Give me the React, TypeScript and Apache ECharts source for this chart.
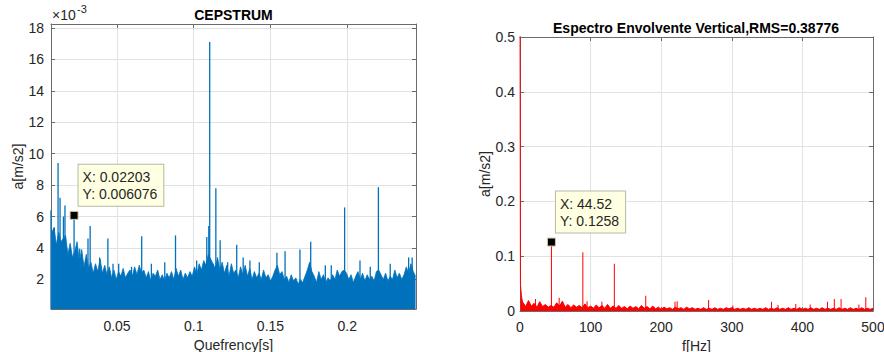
import React, { useEffect, useRef } from "react";
import * as echarts from "echarts";

// ---------- CEPSTRUM (values in units of 1e-3 m/s2) ----------
const cepNoiseStart = 0.0075;
const cepNoiseStep = 0.0015;
const cepNoise = [
  5.0, 5.3, 4.2, 5.0, 4.4, 4.6, 4.8, 3.6, 4.3, 3.4,
  3.8, 4.4, 3.1, 3.9, 2.8, 3.6, 2.7, 3.1, 2.4, 3.0,
  2.5, 3.3, 2.4, 2.9, 2.3, 2.8, 2.1, 2.6, 2.0, 2.5,
  2.2, 2.7, 2.1, 2.4, 2.6, 2.2, 2.8, 2.3, 2.9, 2.4,
  2.6, 2.1, 2.5, 1.9, 2.4, 2.2, 2.6, 2.0, 2.3, 1.9,
  2.4, 2.1, 2.5, 2.0, 2.7, 2.2, 2.6, 2.0, 2.4, 2.1,
  2.5, 2.2, 2.8, 2.3, 3.0, 2.6, 3.2, 2.9, 3.6, 3.3,
  3.0, 2.7, 3.4, 2.6, 3.1, 2.4, 2.9, 2.2, 3.0, 2.4,
  2.6, 2.1, 2.8, 2.3, 2.9, 2.2, 2.7, 2.0, 2.5, 2.1,
  2.4, 2.0, 2.6, 2.1, 2.3, 1.9, 2.2, 2.6, 2.9, 2.3,
  2.5, 2.0, 2.2, 1.8, 2.3, 1.9, 2.1, 1.7, 2.0, 1.8,
  2.2, 2.6, 3.1, 2.5, 2.2, 1.8, 2.5, 2.0, 2.3, 1.8,
  2.1, 1.9, 2.3, 2.0, 2.6, 2.2, 2.5, 2.6, 2.4, 2.0,
  2.3, 1.8, 2.2, 2.5, 2.0, 2.4, 1.9, 2.3, 2.0, 2.2,
  1.9, 2.5, 2.6, 2.3, 2.0, 2.4, 1.9, 2.2, 2.0, 2.6,
  2.1, 2.4, 2.0, 2.3, 2.8, 2.4, 3.0, 2.5, 2.2,
];
const cepPeaks: [number, number][] = [
  [0.0070, 6.4], [0.0091, 5.3], [0.0116, 9.4], [0.0129, 7.2], [0.0151, 6.0],
  [0.0161, 6.7], [0.02203, 6.076], [0.0257, 3.95], [0.0311, 4.6], [0.0325, 5.4],
  [0.0387, 3.4], [0.04406, 4.6], [0.0474, 3.0], [0.0511, 3.0], [0.0595, 2.8],
  [0.06609, 4.75], [0.0724, 3.0], [0.0811, 3.1], [0.08812, 4.8], [0.1019, 3.2],
  [0.1085, 4.7], [0.1098, 5.4], [0.1104, 17.1], [0.1127, 3.0], [0.1144, 7.8],
  [0.1172, 4.5], [0.1221, 3.1], [0.1280, 4.2], [0.1322, 3.4], [0.1366, 3.2],
  [0.1427, 3.1], [0.1542, 3.7], [0.1595, 3.8], [0.1692, 3.9], [0.1762, 4.4],
  [0.1857, 2.9], [0.1896, 2.9], [0.1983, 6.58], [0.2083, 3.2], [0.2150, 2.8],
  [0.2203, 7.87], [0.2280, 3.0], [0.2400, 3.4], [0.2423, 3.4],
];
const cepXTicks = [0.05, 0.1, 0.15, 0.2];
const cepYTicks = [2, 4, 6, 8, 10, 12, 14, 16, 18];
const cepTip = [0.02203, 0.006076];

// ---------- Envelope spectrum (m/s2) ----------
const envLowFreq: [number, number][] = [
  [0, 0.62], [0.6, 0.048], [1.2, 0.04], [2, 0.028], [3, 0.02],
];
const envNoiseStart = 4;
const envNoiseStep = 4;
const envNoise = [
  0.016, 0.008, 0.019, 0.009, 0.014, 0.007, 0.017, 0.008, 0.012, 0.007,
  0.010, 0.007, 0.015, 0.009, 0.018, 0.007, 0.012, 0.006, 0.011, 0.007,
  0.010, 0.006, 0.013, 0.006, 0.009, 0.005, 0.011, 0.006, 0.010, 0.005,
  0.012, 0.005, 0.009, 0.005, 0.010, 0.005, 0.008, 0.004, 0.009, 0.005,
  0.008, 0.004, 0.010, 0.005, 0.008, 0.004, 0.009, 0.004, 0.007, 0.003,
  0.007, 0.004, 0.006, 0.003, 0.007, 0.004, 0.006, 0.003, 0.007, 0.004,
  0.006, 0.003, 0.005, 0.003, 0.006, 0.003, 0.005, 0.003, 0.006, 0.003,
  0.005, 0.003, 0.006, 0.004, 0.006, 0.003, 0.005, 0.003, 0.005, 0.003,
  0.006, 0.003, 0.005, 0.003, 0.005, 0.003, 0.006, 0.003, 0.005, 0.003,
  0.006, 0.003, 0.005, 0.003, 0.006, 0.003, 0.005, 0.003, 0.006, 0.003,
  0.005, 0.003, 0.006, 0.003, 0.005, 0.003, 0.006, 0.003, 0.005, 0.003,
  0.005, 0.003, 0.006, 0.003, 0.005, 0.003, 0.006, 0.003, 0.005, 0.003,
  0.006, 0.003, 0.005, 0.003, 0.005,
];
const envPeaks: [number, number][] = [
  [22, 0.022], [44.52, 0.1258], [55.5, 0.024], [89.0, 0.107], [95, 0.018],
  [116, 0.017], [133.6, 0.086], [178.1, 0.028], [219.5, 0.017], [222.6, 0.018],
  [267.1, 0.020], [301.5, 0.010], [356.2, 0.017], [365.5, 0.011], [390.6, 0.013],
  [411, 0.012], [435.5, 0.017], [445.2, 0.022], [454.8, 0.022], [480, 0.012],
  [489.8, 0.025],
];
const envTip = [44.52, 0.1258];

const FONT = '"Liberation Sans", Arial, Helvetica, sans-serif';
const TXT = "#262626";
const BOX = "#6b6b6b";
const GRIDC = "#e2e2e2";
const BLUE = "#0072BD";
const RED = "#FF0000";

export default function App() {
  const ref = useRef<HTMLDivElement>(null);

  useEffect(() => {
    if (!ref.current) return;
    const chart = echarts.init(ref.current, null, { renderer: "svg" });

    const cepData = cepNoise.map((v, i) => [cepNoiseStart + i * cepNoiseStep, v]);
    const envData = envLowFreq.concat(
      envNoise.map((v, i) => [envNoiseStart + i * envNoiseStep, v] as [number, number])
    );

    const labelStyle = { color: TXT, fontSize: 14, fontFamily: FONT };
    const nameStyle = { color: TXT, fontSize: 14, fontFamily: FONT };
    const lineBox = { show: true, onZero: false, lineStyle: { color: BOX, width: 1 } };

    const tipLabel = (text: string) => ({
      show: true,
      position: [9, -46],
      formatter: () => text,
      backgroundColor: "#FFFFE1",
      borderColor: "#b8b8a4",
      borderWidth: 1,
      padding: [4, 6, 3, 4],
      lineHeight: 17,
      fontSize: 14,
      fontFamily: FONT,
      color: TXT,
      align: "left",
      verticalAlign: "top",
    });

    chart.setOption({
      animation: false,
      backgroundColor: "#ffffff",
      title: [
        {
          text: "CEPSTRUM",
          left: 233.5,
          top: 8,
          textAlign: "center",
          padding: 0,
          textStyle: { fontSize: 14, fontWeight: "bold", color: "#000", fontFamily: FONT },
        },
        {
          text: "Espectro Envolvente Vertical,RMS=0.38776",
          left: 696,
          top: 21,
          textAlign: "center",
          padding: 0,
          textStyle: { fontSize: 14, fontWeight: "bold", color: "#000", fontFamily: FONT },
        },
      ],
      graphic: [
        { type: "text", x: 52, y: 8, style: { text: "×10", fontSize: 14, fontFamily: FONT, fill: TXT } },
        { type: "text", x: 77, y: 3, style: { text: "-3", fontSize: 11, fontFamily: FONT, fill: TXT } },
      ],
      grid: [
        { left: 51, top: 24, width: 365, height: 285, outerBoundsMode: "none", containLabel: false },
        { left: 520, top: 37, width: 353, height: 274, outerBoundsMode: "none", containLabel: false },
      ],
      xAxis: [
        {
          gridIndex: 0,
          type: "value",
          min: 0.007,
          max: 0.2448,
          position: "bottom",
          axisLine: lineBox,
          axisTick: { show: true, inside: true, length: 4, customValues: cepXTicks, lineStyle: { color: BOX } },
          axisLabel: { ...labelStyle, customValues: cepXTicks, margin: 10 },
          splitLine: { show: true, lineStyle: { color: GRIDC, width: 1 } },
          name: "Quefrency[s]",
          nameLocation: "middle",
          nameGap: 29,
          nameTextStyle: nameStyle,
        },
        {
          gridIndex: 0,
          type: "value",
          min: 0.007,
          max: 0.2448,
          position: "top",
          axisLine: lineBox,
          axisTick: { show: true, inside: true, length: 4, customValues: cepXTicks, lineStyle: { color: BOX } },
          axisLabel: { show: false },
          splitLine: { show: false },
        },
        {
          gridIndex: 1,
          type: "value",
          min: 0,
          max: 500,
          interval: 100,
          position: "bottom",
          axisLine: lineBox,
          axisTick: { show: true, inside: true, length: 4, lineStyle: { color: BOX } },
          axisLabel: { ...labelStyle, margin: 9 },
          splitLine: { show: true, lineStyle: { color: GRIDC, width: 1 } },
          name: "f[Hz]",
          nameLocation: "middle",
          nameGap: 27,
          nameTextStyle: nameStyle,
        },
        {
          gridIndex: 1,
          type: "value",
          min: 0,
          max: 500,
          interval: 100,
          position: "top",
          axisLine: lineBox,
          axisTick: { show: true, inside: true, length: 4, lineStyle: { color: BOX } },
          axisLabel: { show: false },
          splitLine: { show: false },
        },
      ],
      yAxis: [
        {
          gridIndex: 0,
          type: "value",
          min: 0.12,
          max: 18.25,
          position: "left",
          axisLine: lineBox,
          axisTick: { show: true, inside: true, length: 4, customValues: cepYTicks, lineStyle: { color: BOX } },
          axisLabel: { ...labelStyle, customValues: cepYTicks, margin: 7 },
          splitLine: { show: true, lineStyle: { color: GRIDC, width: 1 } },
          name: "a[m/s2]",
          nameLocation: "middle",
          nameGap: 24,
          nameTextStyle: nameStyle,
        },
        {
          gridIndex: 0,
          type: "value",
          min: 0.12,
          max: 18.25,
          position: "right",
          axisLine: lineBox,
          axisTick: { show: true, inside: true, length: 4, customValues: cepYTicks, lineStyle: { color: BOX } },
          axisLabel: { show: false },
          splitLine: { show: false },
        },
        {
          gridIndex: 1,
          type: "value",
          min: 0,
          max: 0.5,
          interval: 0.1,
          position: "left",
          axisLine: lineBox,
          axisTick: { show: true, inside: true, length: 4, lineStyle: { color: BOX } },
          axisLabel: { ...labelStyle, margin: 5 },
          splitLine: { show: true, lineStyle: { color: GRIDC, width: 1 } },
          name: "a[m/s2]",
          nameLocation: "middle",
          nameGap: 28,
          nameTextStyle: nameStyle,
        },
        {
          gridIndex: 1,
          type: "value",
          min: 0,
          max: 0.5,
          interval: 0.1,
          position: "right",
          axisLine: lineBox,
          axisTick: { show: true, inside: true, length: 4, lineStyle: { color: BOX } },
          axisLabel: { show: false },
          splitLine: { show: false },
        },
      ],
      series: [
        {
          type: "line",
          xAxisIndex: 0,
          yAxisIndex: 0,
          data: cepData,
          symbol: "none",
          silent: true,
          clip: true,
          lineStyle: { color: BLUE, width: 0.8 },
          areaStyle: { color: BLUE, opacity: 1 },
        },
        {
          type: "bar",
          xAxisIndex: 0,
          yAxisIndex: 0,
          data: cepPeaks,
          barWidth: 1.3,
          silent: true,
          clip: true,
          itemStyle: { color: BLUE },
          markPoint: {
            silent: true,
            symbol: "rect",
            symbolSize: 8,
            itemStyle: { color: "#000", borderColor: "#cfc9a0", borderWidth: 1 },
            label: tipLabel(`X: ${cepTip[0]}\nY: ${cepTip[1]}`),
            data: [{ coord: [cepTip[0], cepTip[1] * 1000] }],
          },
        },
        {
          type: "line",
          xAxisIndex: 2,
          yAxisIndex: 2,
          data: envData,
          symbol: "none",
          silent: true,
          clip: true,
          lineStyle: { color: RED, width: 1 },
          areaStyle: { color: RED, opacity: 1 },
        },
        {
          type: "bar",
          xAxisIndex: 2,
          yAxisIndex: 2,
          data: envPeaks,
          barWidth: 1,
          silent: true,
          clip: true,
          itemStyle: { color: RED },
          markPoint: {
            silent: true,
            symbol: "rect",
            symbolSize: 8,
            itemStyle: { color: "#000", borderColor: "#cfc9a0", borderWidth: 1 },
            label: tipLabel(`X: ${envTip[0]}\nY: ${envTip[1]}`),
            data: [{ coord: [envTip[0], envTip[1]] }],
          },
        },
      ],
    });

    return () => chart.dispose();
  }, []);

  return (
    <div
      ref={ref}
      style={{ position: "fixed", left: 0, top: 0, width: 884, height: 352, background: "#fff" }}
    />
  );
}
